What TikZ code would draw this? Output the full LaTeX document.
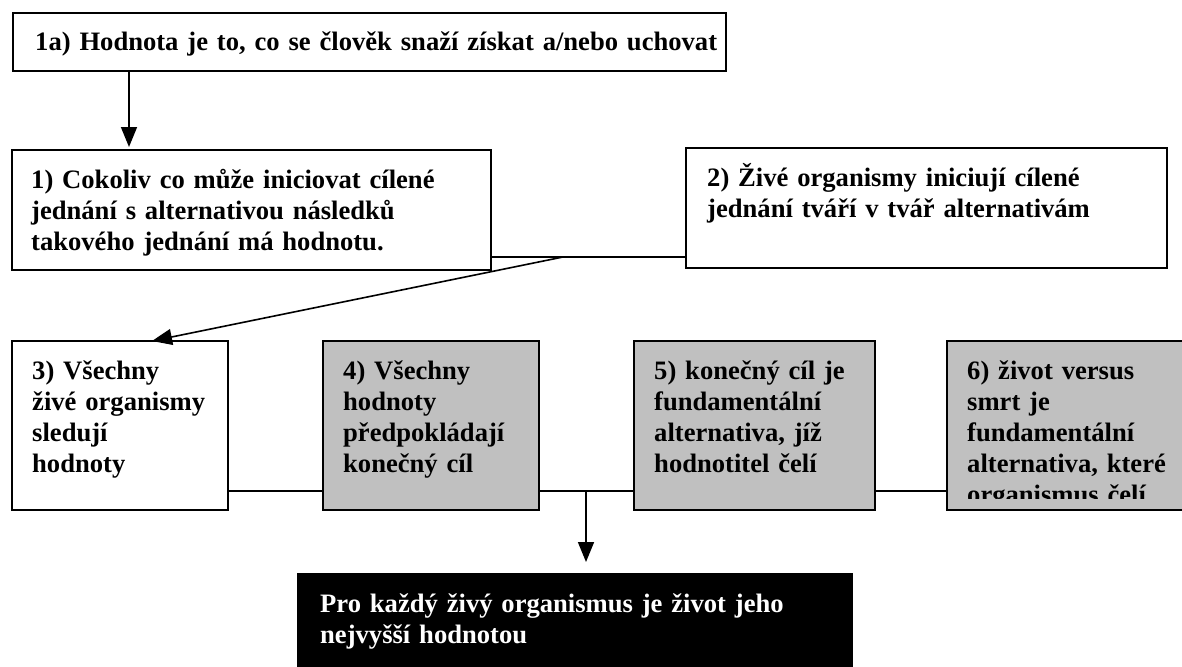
\documentclass[tikz,border=0pt]{standalone}
\usepackage{fontspec}
\setmainfont{Liberation Serif}
\usetikzlibrary{arrows.meta,calc}
\definecolor{boxgray}{HTML}{C0C0C0}
\begin{document}
\begin{tikzpicture}[x=1pt,y=-1pt,
  box/.style={draw=black,line width=1.8pt,fill=white,anchor=north west,inner sep=0pt,outer sep=0pt},
  graybox/.style={box,fill=boxgray},
  blackbox/.style={box,fill=black},
  txt/.style={anchor=base west,inner sep=0pt,align=left,text width=#1,font=\bfseries\fontsize{26.6pt}{31pt}\selectfont},
  conn/.style={line width=1.6pt},
  arr/.style={conn,-{Triangle[width=16pt,length=20pt]}}]
\useasboundingbox (0,0) rectangle (1182,666);
\clip (0,0) rectangle (1182,666);
% boxes
\node[box,minimum width=713pt,minimum height=58pt] (b1a) at (13,13) {};
\node[box,minimum width=479pt,minimum height=120pt] (b1) at (12,150) {};
\node[box,minimum width=481pt,minimum height=120pt] (b2) at (686,148) {};
\node[box,minimum width=216pt,minimum height=169pt] (b3) at (12,341) {};
\node[graybox,minimum width=216pt,minimum height=169pt] (b4) at (323,341) {};
\node[graybox,minimum width=241pt,minimum height=169pt] (b5) at (634,341) {};
\node[graybox,minimum width=241pt,minimum height=169pt] (b6) at (947,341) {};
\node[blackbox,minimum width=554pt,minimum height=110pt] (bk) at (298,574) {};
% texts
\node[txt=700pt] (t1a) at ($(b1a.north west)+(22,38)$) {1a) Hodnota je to, co se člověk snaží získat a/nebo uchovat};
\node[txt=460pt] (t1) at ($(b1.north west)+(19,38)$) {1) Cokoliv co může iniciovat cílené\\jednání s alternativou následků\\takového jednání má hodnotu.};
\node[txt=460pt] (t2) at ($(b2.north west)+(21,38)$) {2) Živé organismy iniciují cílené\\jednání tváří v tvář alternativám};
\node[txt=200pt] (t3) at ($(b3.north west)+(20,38)$) {3) Všechny\\živé organismy\\sledují\\hodnoty};
\node[txt=200pt] (t4) at ($(b4.north west)+(20,38)$) {4) Všechny\\hodnoty\\předpokládají\\konečný cíl};
\node[txt=225pt] (t5) at ($(b5.north west)+(20,38)$) {5) konečný cíl je\\fundamentální\\alternativa, jíž\\hodnotitel čelí};
\begin{scope}
\clip (b6.north west) rectangle ($(b6.south east)+(0,-12)$);
\node[txt=225pt] (t6) at ($(b6.north west)+(20,38)$) {6) život versus\\smrt je\\fundamentální\\alternativa, které\\organismus čelí};
\end{scope}
\node[txt=530pt,text=white] (tk) at ($(bk.north west)+(22,38)$) {Pro každý živý organismus je život jeho\\nejvyšší hodnotou};
% connectors
\draw[arr] ($(b1a.south west)+(116,0)$) -- ($(b1.north west)+(117,-3)$);
\draw[conn] ($(b1.north east)+(0,107)$) -- ($(b2.north west)+(0,109)$);
\coordinate (j1) at ($(b1.north east)+(72,107)$);
\draw[arr] (j1) -- ($(b3.north west)+(140,0)$);
\draw[conn] ($(b3.north east)+(0,150)$) -- ($(b4.north west)+(0,150)$);
\draw[conn] ($(b4.north east)+(0,150)$) -- ($(b5.north west)+(0,150)$);
\draw[conn] ($(b5.north east)+(0,150)$) -- ($(b6.north west)+(0,150)$);
\coordinate (j2) at ($(b4.north east)+(47,150)$);
\draw[arr] (j2) -- ($(bk.north west)+(288,-12)$);
\end{tikzpicture}
\end{document}
